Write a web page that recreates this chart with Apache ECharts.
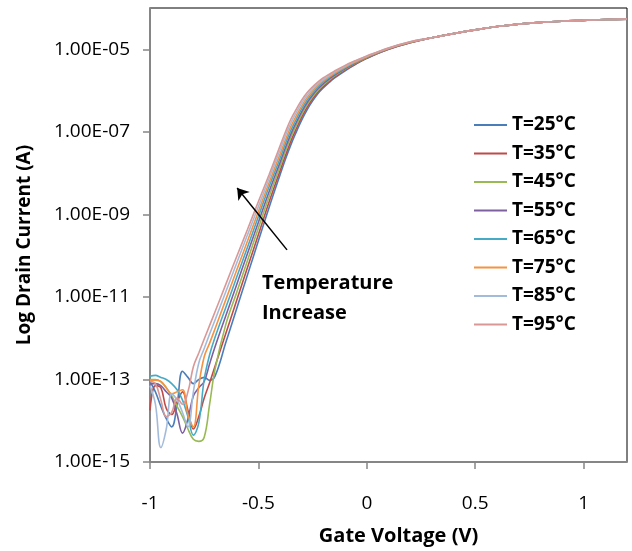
<!DOCTYPE html>
<html>
<head>
<meta charset="utf-8">
<script src="https://cdn.jsdelivr.net/npm/echarts@6/dist/echarts.min.js"></script>
<style>
  html, body { margin: 0; padding: 0; background: #fff; }
  #chart { width: 632px; height: 551px; }
</style>
</head>
<body>
<div id="chart"></div>
<script>
// gate voltage (V)
const gateVoltage = [-1, -0.975, -0.95, -0.925, -0.9, -0.875, -0.85, -0.825, -0.8, -0.775, -0.75, -0.725,
  -0.7, -0.65, -0.6, -0.55, -0.5, -0.45,
  -0.4, -0.375, -0.35, -0.325, -0.3, -0.275, -0.25, -0.225, -0.2, -0.175, -0.15, -0.1, -0.05, 0, 0.1, 0.2,
  0.3, 0.4, 0.5, 0.6, 0.7, 0.8, 0.9, 1.0, 1.1, 1.2];

// log10 of drain current (A), one array per temperature
const logI25 = [-13.05, -13.3, -13.65, -13.95, -14.15, -13.6, -12.8, -12.95, -13.1, -13.0, -12.95, -13.02,
  -12.92, -12.10, -11.28, -10.46, -9.64, -8.82,
  -8.04, -7.66, -7.31, -7.00, -6.71, -6.46, -6.25, -6.07, -5.93, -5.81, -5.70, -5.52, -5.36, -5.22, -5.00, -4.84,
  -4.72, -4.62, -4.53, -4.45, -4.39, -4.35, -4.32, -4.30, -4.28, -4.27];
const logI35 = [-13.75, -13.15, -13.2, -13.7, -13.85, -13.55, -13.3, -13.75, -14.2, -13.9, -13.45, -13.08,
  -12.68, -11.88, -11.08, -10.28, -9.49, -8.69,
  -7.94, -7.57, -7.22, -6.92, -6.64, -6.40, -6.20, -6.03, -5.90, -5.78, -5.68, -5.50, -5.35, -5.21, -5.00, -4.84,
  -4.72, -4.62, -4.53, -4.45, -4.39, -4.35, -4.32, -4.30, -4.28, -4.27];
const logI45 = [-13.0, -13.0, -13.05, -13.2, -13.4, -13.65, -13.9, -14.2, -14.45, -14.5, -14.4, -13.6,
  -12.75, -11.66, -10.89, -10.11, -9.33, -8.56,
  -7.84, -7.47, -7.13, -6.84, -6.57, -6.34, -6.15, -5.99, -5.86, -5.75, -5.65, -5.48, -5.33, -5.20, -4.99, -4.83,
  -4.72, -4.62, -4.53, -4.45, -4.39, -4.35, -4.32, -4.30, -4.28, -4.27];
const logI55 = [-13.1, -13.1, -13.15, -13.3, -13.45, -13.85, -14.3, -13.95, -13.4, -13.2, -13.05, -12.62,
  -12.21, -11.45, -10.70, -9.94, -9.19, -8.44,
  -7.74, -7.38, -7.05, -6.77, -6.51, -6.29, -6.11, -5.95, -5.83, -5.72, -5.63, -5.47, -5.32, -5.19, -4.99, -4.83,
  -4.72, -4.62, -4.53, -4.45, -4.39, -4.35, -4.32, -4.30, -4.28, -4.27];
const logI65 = [-12.92, -12.9, -12.95, -13.0, -13.1, -13.25, -13.5, -13.9, -14.35, -14.05, -13.0, -12.4,
  -11.98, -11.25, -10.52, -9.79, -9.05, -8.32,
  -7.64, -7.28, -6.96, -6.69, -6.44, -6.23, -6.06, -5.91, -5.79, -5.69, -5.60, -5.45, -5.31, -5.18, -4.98, -4.83,
  -4.72, -4.62, -4.53, -4.45, -4.39, -4.35, -4.32, -4.30, -4.28, -4.27];
const logI75 = [-13.02, -13.02, -13.05, -13.2, -13.35, -13.3, -13.25, -13.85, -14.15, -13.15, -12.45, -12.12,
  -11.77, -11.06, -10.35, -9.64, -8.93, -8.22,
  -7.54, -7.19, -6.87, -6.61, -6.37, -6.17, -6.01, -5.87, -5.76, -5.67, -5.58, -5.43, -5.30, -5.18, -4.98, -4.83,
  -4.72, -4.62, -4.53, -4.45, -4.39, -4.35, -4.32, -4.30, -4.28, -4.27];
const logI85 = [-13.15, -13.6, -14.65, -14.2, -13.35, -13.5, -13.8, -14.15, -13.3, -12.6, -12.25, -11.9,
  -11.56, -10.87, -10.18, -9.49, -8.81, -8.12,
  -7.44, -7.09, -6.78, -6.53, -6.30, -6.11, -5.96, -5.83, -5.73, -5.64, -5.55, -5.41, -5.28, -5.17, -4.97, -4.82,
  -4.72, -4.62, -4.53, -4.45, -4.39, -4.35, -4.32, -4.30, -4.28, -4.27];
const logI95 = [-13.05, -13.1, -13.5, -13.9, -13.8, -13.45, -13.6, -13.3, -12.69, -12.36, -12.02, -11.69,
  -11.36, -10.69, -10.02, -9.36, -8.69, -8.03,
  -7.34, -7.00, -6.69, -6.45, -6.23, -6.05, -5.91, -5.79, -5.69, -5.61, -5.53, -5.39, -5.27, -5.16, -4.97, -4.82,
  -4.72, -4.62, -4.53, -4.45, -4.39, -4.35, -4.32, -4.30, -4.28, -4.27];

const seriesNames = ['T=25°C', 'T=35°C', 'T=45°C', 'T=55°C', 'T=65°C', 'T=75°C', 'T=85°C', 'T=95°C'];
const seriesData = [logI25, logI35, logI45, logI55, logI65, logI75, logI85, logI95];
const colors = ['#4A7EBB', '#BE4B48', '#98B954', '#7D60A0', '#46AAC5', '#F69240', '#A3BBDB', '#D99795'];

// tick labels
const xTicks = [-1, -0.5, 0, 0.5, 1];
const yTicks = [-15, -13, -11, -9, -7, -5];   // decades shown as 1.00E-xx

// annotation arrow (gate voltage, log current)
const arrowTail = [-0.368, -9.86];
const arrowHead = [-0.598, -8.36];

const FONT = '"Open Sans", "Liberation Sans", sans-serif';

let myChart = echarts.init(document.getElementById('chart'));

let series = seriesNames.map(function (name, k) {
  return {
    name: name,
    type: 'line',
    data: gateVoltage.map(function (v, i) { return [v, seriesData[k][i]]; }),
    symbol: 'none',
    smooth: 0.4,
    lineStyle: { color: colors[k], width: 1.6 },
    itemStyle: { color: colors[k] },
    z: 2
  };
});

series[series.length - 1].markLine = {
  silent: true,
  symbol: ['none', 'arrow'],
  symbolSize: 11,
  label: { show: false },
  lineStyle: { color: '#000', width: 1.5, type: 'solid' },
  data: [[{ coord: arrowTail }, { coord: arrowHead }]]
};

let option = {
  animation: false,
  backgroundColor: '#fff',
  grid: {
    left: 150, right: 5, top: 8, bottom: 88,
    show: true, borderColor: '#000', borderWidth: 1
  },
  legend: {
    orient: 'vertical',
    left: 469,
    top: 110,
    icon: 'rect',
    itemWidth: 33,
    itemHeight: 2,
    itemGap: 8.5,
    data: seriesNames,
    textStyle: { fontFamily: FONT, fontWeight: 'bold', fontSize: 19, color: '#000', lineHeight: 20 }
  },
  xAxis: {
    type: 'value',
    min: -1,
    max: 1.2,
    name: 'Gate Voltage (V)',
    nameLocation: 'middle',
    nameGap: 64,
    nameTextStyle: { fontFamily: FONT, fontWeight: 'bold', fontSize: 20, color: '#000', padding: [0, 0, 0, 20] },
    splitLine: { show: false },
    axisLine: { onZero: false, lineStyle: { color: '#868686', width: 2 } },
    axisTick: { customValues: xTicks, length: 7, lineStyle: { color: '#868686', width: 1.5 } },
    axisLabel: { customValues: xTicks, margin: 32, fontFamily: FONT, fontSize: 19, color: '#000' }
  },
  yAxis: {
    type: 'value',
    min: -15,
    max: -4,
    name: 'Log Drain Current (A)',
    nameLocation: 'middle',
    nameGap: 116,
    nameTextStyle: { fontFamily: FONT, fontWeight: 'bold', fontSize: 19, color: '#000', padding: [0, 20, 0, 0] },
    splitLine: { show: false },
    axisLine: { onZero: false, lineStyle: { color: '#868686', width: 2 } },
    axisTick: { customValues: yTicks, length: 7, lineStyle: { color: '#868686', width: 1.5 } },
    axisLabel: {
      customValues: yTicks,
      margin: 20,
      fontFamily: FONT,
      fontSize: 19,
      color: '#000',
      formatter: function (v) {
        let e = Math.abs(Math.round(v));
        return '1.00E' + (v < 0 ? '-' : '+') + (e < 10 ? '0' + e : e);
      }
    }
  },
  graphic: [{
    type: 'text',
    left: 262,
    top: 268,
    style: {
      text: 'Temperature\nIncrease',
      font: 'bold 20px ' + FONT,
      lineHeight: 30,
      fill: '#000'
    }
  }],
  series: series
};

myChart.setOption(option);
window.addEventListener('resize', function () {
  myChart.resize();
});
</script>
</body>
</html>
